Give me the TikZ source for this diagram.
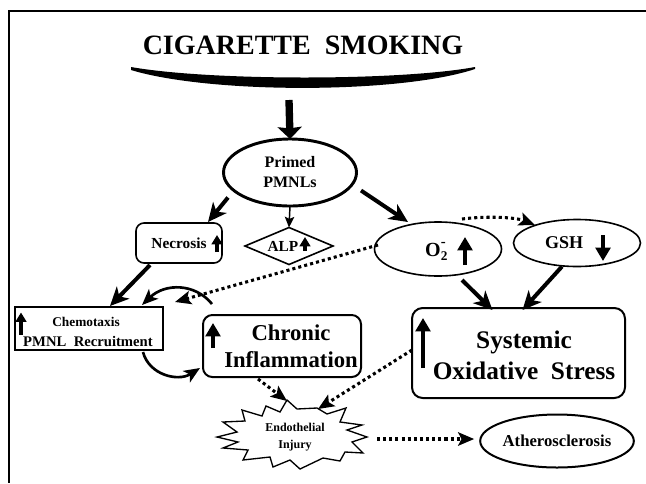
\documentclass[tikz,border=0pt]{standalone}
\usepackage{fontspec}
\setmainfont{Liberation Serif}
\usetikzlibrary{arrows.meta,shapes.geometric,calc}
\begin{document}
\begin{tikzpicture}[x=0.75pt,y=-0.75pt,
  every node/.style={inner sep=0pt,outer sep=0pt},
  oval/.style={ellipse,draw,line width=1.2pt},
  rbox/.style={rectangle,draw,rounded corners=6pt,line width=1.2pt},
  sbox/.style={rectangle,draw,line width=1.2pt},
  bigarr/.style={line width=5.5pt,-{Stealth[length=9pt,width=18pt,inset=1pt]}},
  thickarr/.style={line width=3pt,-{Stealth[length=14pt,width=13pt,inset=4pt]}},
  thinarr/.style={line width=1.1pt,-{Stealth[length=8pt,width=7pt,inset=1.5pt]}},
  curvarr/.style={line width=2pt,-{Stealth[length=12pt,width=10pt,inset=3pt]}},
  dotarr/.style={line width=2.3pt,dash pattern=on 2.3pt off 2.3pt,-{Stealth[length=12pt,width=10pt,inset=2.5pt]}},
  uparr/.style={line width=2.4pt,-{Triangle[length=7pt,width=8pt]}},
  bigup/.style={line width=3.2pt,-{Triangle[length=10pt,width=11pt]}},
]
\useasboundingbox (0,0) rectangle (646,483);
% frame
\draw[line width=1.5pt] (646,11) -- (9,11) -- (9,483);

% title and bowl
\node[font=\bfseries\fontsize{21pt}{21pt}\selectfont] (title) at (303,45) {CIGARETTE\ \ SMOKING};
\fill (131,67) .. controls (210,81) and (400,81) .. (475,67) -- (475,69)
      .. controls (400,94) and (210,94) .. (131,70) -- cycle;
\coordinate (bowl) at (289,100);

% nodes
\node[oval,line width=2.2pt,minimum width=133*0.75pt,minimum height=67*0.75pt,align=center,
      font=\bfseries\fontsize{12pt}{15pt}\selectfont] (primed) at (290,172.5) {Primed\\PMNLs};
\node[rbox,minimum width=86*0.75pt,minimum height=40*0.75pt,
      font=\bfseries\fontsize{11.5pt}{13pt}\selectfont] (necrosis) at (179,243) {Necrosis\hspace{5pt}};
\node[diamond,draw,line width=1.2pt,minimum width=88*0.75pt,minimum height=37*0.75pt] (alp) at (289,246) {};
\node[font=\bfseries\fontsize{11.5pt}{13pt}\selectfont] (alptxt) at (283,246) {ALP};
\node[oval,minimum width=127*0.75pt,minimum height=54*0.75pt] (o2) at (438,249) {};
\node[font=\bfseries\fontsize{15pt}{17pt}\selectfont] (o2txt) at (433,250) {O};
\node[font=\bfseries\fontsize{10pt}{10pt}\selectfont,anchor=south west,yshift=-2.5pt] (o2sub) at (o2txt.south east) {2};
\node[font=\bfseries\fontsize{11pt}{11pt}\selectfont,anchor=north west,yshift=1pt] (o2sup) at (o2txt.north east) {-};
\node[oval,minimum width=127*0.75pt,minimum height=47*0.75pt] (gsh) at (577,243) {};
\node[font=\bfseries\fontsize{13.5pt}{15pt}\selectfont] (gshtxt) at (564,243) {GSH};
\node[sbox,minimum width=148*0.75pt,minimum height=43*0.75pt] (chem) at (89,328.5) {};
\node[font=\bfseries\fontsize{10pt}{12pt}\selectfont] (chemtxt) at (86,322) {Chemotaxis};
\node[font=\bfseries\fontsize{11pt}{13pt}\selectfont] (pmnltxt) at (88,341) {PMNL\ \ Recruitment};
\node[rbox,line width=1.5pt,minimum width=158*0.75pt,minimum height=62*0.75pt,rounded corners=7pt] (chronic) at (282,346) {};
\node[align=center,font=\bfseries\fontsize{17pt}{20pt}\selectfont] (chrtxt) at (291,346) {Chronic\\Inflammation};
\node[rbox,line width=1.5pt,minimum width=213*0.75pt,minimum height=90*0.75pt,rounded corners=8pt] (sys) at (518.5,353) {};
\node[align=center,font=\bfseries\fontsize{19pt}{23pt}\selectfont] (systxt) at (524,355) {Systemic\\Oxidative\ \ Stress};
\node (endo) at (292,436) {};
\draw[line width=1pt] (266,406) -- (280,412) -- (287,400) -- (297,409) -- (317,408) -- (327,414)
  -- (346,408) -- (340,422) -- (362,425) -- (347,430) -- (367,437) -- (352,442) -- (363,453)
  -- (345,452) -- (340,461) -- (323,458) -- (300,469) -- (290,460) -- (273,467) -- (270,457)
  -- (243,460) -- (248,450) -- (223,448) -- (238,442) -- (217,437) -- (237,432) -- (223,422)
  -- (245,421) -- (242,410) -- (262,416) -- cycle;
\node[align=center,font=\bfseries\fontsize{9pt}{13pt}\selectfont] (endotxt) at (295,437) {Endothelial\\Injury};
\node[oval,line width=1.5pt,minimum width=147*0.75pt,minimum height=53*0.75pt,
      font=\bfseries\fontsize{12.5pt}{14pt}\selectfont] (ath) at (557,441) {Atherosclerosis};

% small up/down arrows inside nodes
\draw[uparr] ($(necrosis.center)+(38,9)$) -- ++(0,-17);
\draw[uparr] ($(alp.center)+(16,5)$) -- ++(0,-14);
\draw[bigup] ($(o2.center)+(27,16)$) -- ++(0,-28);
\draw[bigup] ($(gsh.center)+(26,-8)$) -- ++(0,26);
\draw[uparr] ($(chem.west)+(6,6)$) -- ++(0,-22);
\draw[bigup] ($(chronic.west)+(10,2)$) -- ++(0,-25);
\draw[bigup] ($(sys.west)+(11,15)$) -- ++(0,-50);

% connectors
\draw[bigarr] (bowl) -- (primed.north);
\draw[thickarr] ($(primed.center)+(-62,25)$) -- ($(necrosis.north east)+(-14,-1)$);
\draw[thinarr] (primed.south) -- (alp.north);
\draw[thickarr] ($(primed.center)+(71,18)$) -- ($(o2.center)+(-30,-27)$);
\draw[dotarr] ($(o2.center)+(24,-30)$) .. controls ($(o2.center)+(47,-33)$) and ($(gsh.center)+(-62,-26)$) .. ($(gsh.center)+(-42,-18)$);
\draw[dotarr] ($(o2.center)+(-60,-4)$) -- ($(chem.north east)+(12,-5)$);
\draw[thickarr] ($(necrosis.south west)+(14,2)$) -- ($(chem.north)+(21,-1)$);
\draw[curvarr] ($(chronic.north west)+(9,-11)$) .. controls ($(chronic.north west)+(-8,-32)$) and ($(chem.north)+(76,-24)$) .. ($(chem.north)+(53,-2)$);
\draw[curvarr] ($(chem.south)+(54,2)$) .. controls ($(chem.south)+(60,25)$) and ($(chronic.south west)+(-25,5)$) .. ($(chronic.south west)+(-3,-9)$);
\draw[thickarr] ($(o2.south)+(24,4)$) -- ($(sys.north)+(-26,2)$);
\draw[thickarr] ($(gsh.south)+(-15,0)$) -- ($(sys.north)+(4,2)$);
\draw[dotarr] ($(chronic.south)+(-24,2)$) -- ($(endo)+(-5,-35)$);
\draw[dotarr] ($(sys.west)+(0,-3)$) -- ($(endo)+(26,-27)$);
\draw[dotarr] ($(endo)+(85,3)$) -- ($(ath.west)+(-6,-2)$);
\end{tikzpicture}
\end{document}
